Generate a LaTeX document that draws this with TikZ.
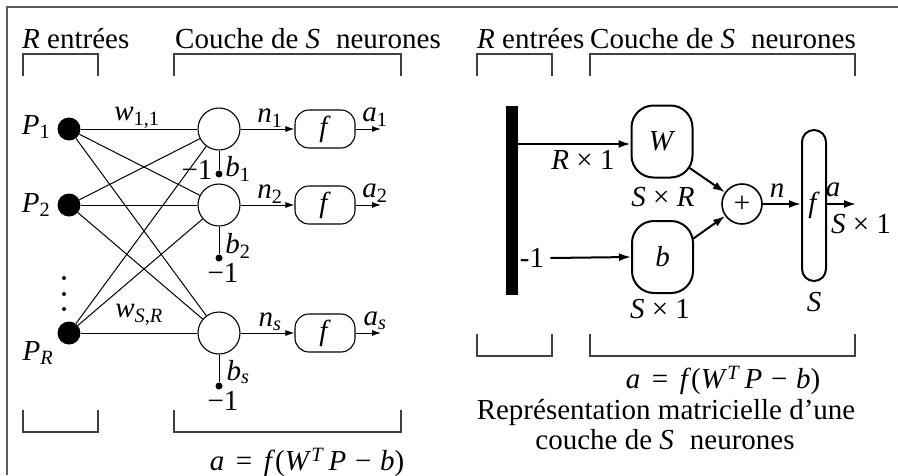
\documentclass[tikz,border=0pt]{standalone}
\usepackage{fontspec}
\setmainfont{Liberation Serif}
\usetikzlibrary{arrows.meta,calc}
\newcommand{\vi}[1]{\textit{#1}}
\newcommand{\eqtext}{\vi{a}\hspace{0.4em}=\hspace{0.4em}\vi{f}(\vi{W}\textsuperscript{\vi{T}}\hspace{0.15em}\vi{P}\hspace{0.3em}−\hspace{0.3em}\vi{b})}
\begin{document}
\begin{tikzpicture}[x=1pt,y=-1pt,
  font=\fontsize{29}{33}\selectfont,
  frame/.style={draw=black!65, line width=1.6pt},
  brk/.style={draw=black!75, line width=1.4pt},
  inp/.style={circle, fill=black, minimum size=23pt, inner sep=0pt},
  neu/.style={circle, draw, minimum size=42pt, inner sep=0pt, line width=1.1pt},
  fbx/.style={draw, rounded corners=14pt, minimum width=60pt, minimum height=38pt, inner sep=0pt, line width=1.1pt},
  wire/.style={line width=1pt},
  arr/.style={-{Latex[length=9pt,width=6pt]}, line width=1pt},
  arrb/.style={-{Latex[length=12pt,width=8pt]}, line width=2pt},
  bdot/.style={circle, fill=black, minimum size=7pt, inner sep=0pt},
  sdot/.style={circle, fill=black, minimum size=4pt, inner sep=0pt},
  lbl/.style={inner sep=0pt},
  mbox/.style={draw, line width=2pt, rounded corners=22pt, minimum width=61pt, minimum height=72pt, inner sep=0pt},
]
\useasboundingbox (0,0) rectangle (898,475);
% frame
\draw[frame] (7,475) -- (7,7) -- (898,7);

% ---------- left part ----------
\node[lbl, anchor=base west] (rinL) at (22,48) {\vi{R} entrées};
\node[lbl, anchor=base west] (couL) at (175,48) {Couche de \vi{S}\hspace{.3em} neurones};
\draw[brk] (23,76) -- (23,54) -- (98,54) -- (98,76);
\draw[brk] (174,76) -- (174,54) -- (401,54) -- (401,76);
\draw[brk] (23,410) -- (23,432) -- (98,432) -- (98,410);
\draw[brk] (174,410) -- (174,432) -- (401,432) -- (401,410);

\node[inp] (P1) at (69,129) {};
\node[inp] (P2) at (69,205) {};
\node[inp] (PR) at (69,333) {};
\node[lbl] (lP1) at (36,127) {\vi{P}\textsubscript{1}};
\node[lbl] (lP2) at (36,205) {\vi{P}\textsubscript{2}};
\node[lbl] (lPR) at (38,353) {\vi{P}\textsubscript{\vi{R}}};
\node[sdot] (d1) at (64,278) {};
\node[sdot] (d2) at (64,294) {};
\node[sdot] (d3) at (64,309) {};

\node[neu] (N1) at (219,129) {};
\node[neu] (N2) at (219,205) {};
\node[neu] (NS) at (219,333) {};

\foreach \i in {P1,P2,PR}{
  \foreach \j in {N1,N2,NS}{
    \draw[wire] (\i) -- (\j);
  }
}
\node[lbl] (w11) at (137,118) {\vi{w}\textsubscript{1,1}};
\node[lbl] (wSR) at (139,315) {\vi{w}\textsubscript{\vi{S},\vi{R}}};

\node[fbx] (F1) at (325,129) {\vi{f}};
\node[fbx] (F2) at (325,205) {\vi{f}};
\node[fbx] (FS) at (325,333) {\vi{f}};
\coordinate (A1) at (381,129);
\coordinate (A2) at (381,205);
\coordinate (AS) at (381,333);
\draw[arr] (N1) -- (F1);
\draw[arr] (N2) -- (F2);
\draw[arr] (NS) -- (FS);
\draw[arr] (F1) -- (A1);
\draw[arr] (F2) -- (A2);
\draw[arr] (FS) -- (AS);
\node[lbl] (n1) at (270,118) {\vi{n}\textsubscript{1}};
\node[lbl] (n2) at (270,194) {\vi{n}\textsubscript{2}};
\node[lbl] (ns) at (270,322) {\vi{n}\textsubscript{\vi{s}}};
\node[lbl] (a1) at (375,117) {\vi{a}\textsubscript{1}};
\node[lbl] (a2) at (375,193) {\vi{a}\textsubscript{2}};
\node[lbl] (as) at (375,321) {\vi{a}\textsubscript{\vi{s}}};

\node[bdot] (B1) at (219,174) {};
\node[bdot] (B2) at (219,258) {};
\node[bdot] (BS) at (219,386) {};
\draw[wire] (N1) -- (B1);
\draw[wire] (N2) -- (B2);
\draw[wire] (NS) -- (BS);
\node[lbl] (m1) at (197,170) {−1};
\node[lbl] (b1) at (238,169) {\vi{b}\textsubscript{1}};
\node[lbl] (b2) at (238,246) {\vi{b}\textsubscript{2}};
\node[lbl] (m2) at (223,273) {−1};
\node[lbl] (bs) at (238,372) {\vi{b}\textsubscript{\vi{s}}};
\node[lbl] (ms) at (223,401) {−1};

\node[lbl] (eqL) at (307,462) {\eqtext};

% ---------- right part ----------
\node[lbl, anchor=base west] (rinR) at (477,48) {\vi{R} entrées};
\node[lbl, anchor=base west] (couR) at (590,48) {Couche de \vi{S}\hspace{.3em} neurones};
\draw[brk] (477,76) -- (477,54) -- (552,54) -- (552,76);
\draw[brk] (590,76) -- (590,54) -- (855,54) -- (855,76);
\draw[brk] (477,334) -- (477,356) -- (552,356) -- (552,334);
\draw[brk] (590,334) -- (590,356) -- (855,356) -- (855,334);

\node[fill=black, minimum width=12pt, minimum height=189pt, inner sep=0pt] (bar) at (512,200.5) {};
\node[mbox] (W) at (662,141.5) {\vi{W}};
\node[mbox] (Bb) at (662.5,257) {\vi{b}};
\node[circle, draw, line width=1.6pt, minimum size=40pt, inner sep=0pt] (plus) at (742,204) {+};
\node[draw, line width=2pt, rounded corners=12pt, minimum width=24pt, minimum height=151pt, inner sep=0pt] (fb) at (814,205.5) {\vi{f}};
\coordinate (Aout) at (856,204);

\node[lbl] (R1) at (583,160) {\vi{R} × 1};
\node[lbl] (SR) at (663,197) {\vi{S} × \vi{R}};
\node[lbl] (S1) at (660,309) {\vi{S} × 1};
\node[lbl] (mR) at (532,258) {-1};
\node[lbl] (nR) at (777,191) {\vi{n}};
\node[lbl] (aR) at (833,190) {\vi{a}};
\node[lbl] (Sa1) at (861,224) {\vi{S} × 1};
\node[lbl] (Sf) at (814,302) {\vi{S}};

\draw[arrb] (bar.east |- W.west) ++(0,2.5) -- ([yshift=-2.5pt]W.west);
\draw[arrb] ([xshift=6pt]mR.east) -- (Bb.west);
\draw[arrb] ([xshift=-4pt]W.-40) -- (plus);
\draw[arrb] ([xshift=-1pt]Bb.30) -- (plus);
\draw[arrb] (plus) -- (fb.west |- plus.east);
\draw[arrb] (fb.east |- plus.east) -- (Aout);

\node[lbl] (eqR) at (723,380) {\eqtext};
\node[lbl] (rep1) at (666,412) {Représentation matricielle d’une};
\node[lbl] (rep2) at (665,440) {couche de \vi{S}\hspace{.3em} neurones};
\end{tikzpicture}
\end{document}
